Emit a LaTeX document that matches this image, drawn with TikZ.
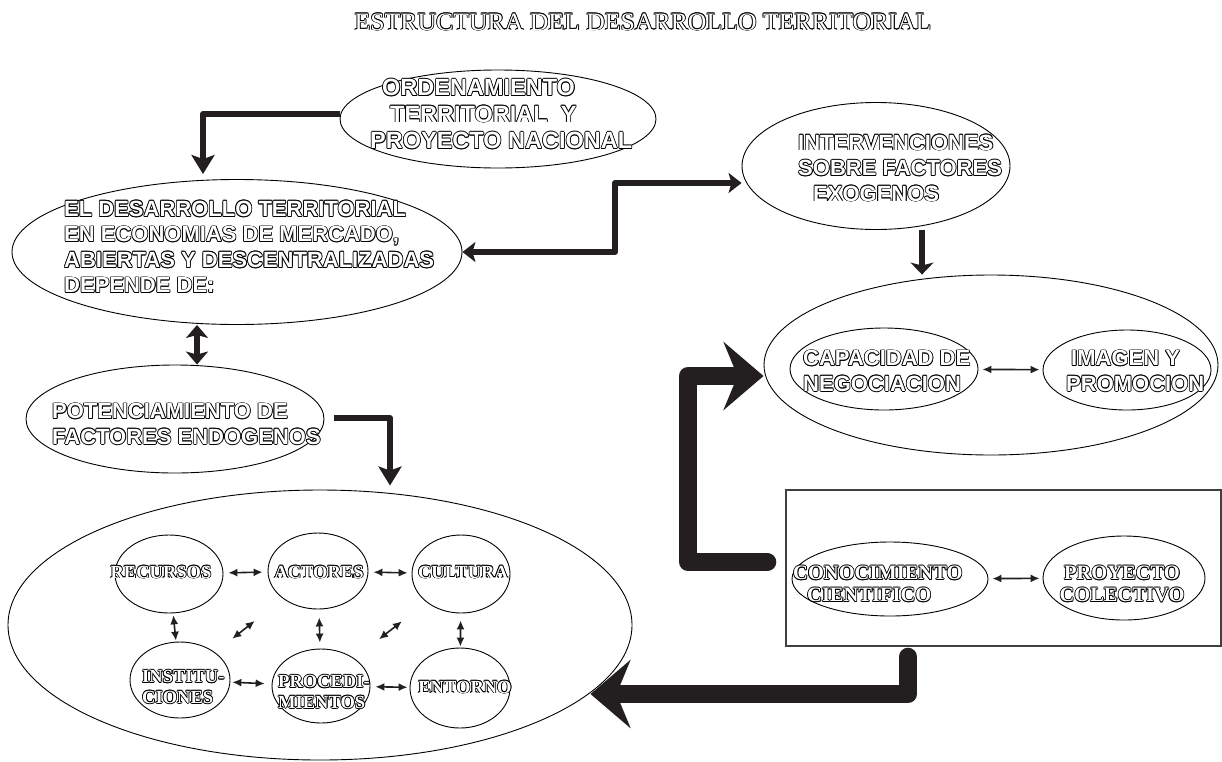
\documentclass[tikz,border=0pt]{standalone}
\usepackage{fontspec}
\setmainfont{Liberation Serif}
\newfontfamily\sansf{Liberation Sans}
\newfontfamily\titlef{Liberation Serif}[FakeStretch=1.03]
\usetikzlibrary{shapes.geometric,arrows.meta}
\definecolor{ink}{HTML}{231F20}
\newcommand{\olc}[3]{\rlap{\kern#1\raisebox{#2}{#3}}}
\newcommand{\ol}[1]{{\leavevmode\color{black}%
\olc{0.8pt}{0pt}{#1}\olc{-0.8pt}{0pt}{#1}\olc{0pt}{0.8pt}{#1}\olc{0pt}{-0.8pt}{#1}%
\olc{0.57pt}{0.57pt}{#1}\olc{-0.57pt}{0.57pt}{#1}\olc{0.57pt}{-0.57pt}{#1}\olc{-0.57pt}{-0.57pt}{#1}%
\color{white}#1}}
\begin{document}
\begin{tikzpicture}[x=1pt,y=-1pt,
  ell/.style={draw=black, line width=0.9pt, ellipse, inner sep=0pt},
  E/.style 2 args={ell, minimum width=#1pt, minimum height=#2pt},
  ttl/.style={inner sep=0pt, font=\titlef\fontsize{25}{28}\selectfont},
  stxt/.style={inner sep=0pt, font=\sansf\bfseries\fontsize{22}{25.5}\selectfont},
  stxtb/.style={inner sep=0pt, font=\sansf\bfseries\fontsize{23.5}{26.5}\selectfont},
  rtxt/.style={inner sep=0pt, font=\bfseries\fontsize{18.5}{20.5}\selectfont},
  rtxtb/.style={inner sep=0pt, font=\bfseries\fontsize{20.5}{22}\selectfont},
  marr/.style={draw=ink, line width=6pt, line join=round},
  barr/.style={draw=ink, line width=18pt, line cap=round, line join=round,
     -{Stealth[length=40pt,width=68pt,inset=14pt]}},
  tarr/.style={draw=ink, line width=1.6pt,
     {Latex[length=9pt,width=8pt]}-{Latex[length=9pt,width=8pt]}}
]
\useasboundingbox (0,0) rectangle (1222,761);

% title
\node[ttl] (title) at (643,22) {\ol{ESTRUCTURA DEL DESARROLLO TERRITORIAL}};

% ellipses
\node[E={316}{98}] (ord) at (498,119) {};
\node[E={450}{145}] (des) at (237,252) {};
\node[E={268}{127}] (int) at (876,166) {};
\node[E={298}{108}] (pot) at (175,419) {};
\node[E={624}{270}] (big) at (320,625) {};
\node[E={454}{180}] (rout) at (991,365) {};
\node[E={188}{82}] (cap) at (884,369) {};
\node[E={168}{80}] (img) at (1127,370) {};
\node[draw=black!75, line width=1.4pt, minimum width=435pt, minimum height=156pt, inner sep=0pt] (rect) at (1003.5,568) {};
\node[E={196}{74}] (con) at (890,579) {};
\node[E={162}{84}] (pro) at (1124,578) {};
\node[E={108}{78}] (rec) at (169,574) {};
\node[E={100}{76}] (act) at (318,571) {};
\node[E={98}{78}] (cul) at (461,574) {};
\node[E={100}{76}] (ins) at (180,680) {};
\node[E={98}{74}] (prc) at (321,686) {};
\node[E={100}{80}] (ent) at (460,688) {};

% texts
\node[stxtb, anchor=west, align=left] (ordT) at (370,114) {\hspace*{12pt}\ol{ORDENAMIENTO}\\\hspace*{20pt}\ol{TERRITORIAL\ \ Y}\\\ol{PROYECTO NACIONAL}};
\node[stxt, anchor=west, align=left] (desT) at (64,247) {\ol{EL DESARROLLO TERRITORIAL}\\\ol{EN ECONOMIAS DE MERCADO,}\\\ol{ABIERTAS Y DESCENTRALIZADAS}\\\ol{DEPENDE DE:}};
\node[stxt, anchor=west, align=left] (intT) at (798,168) {\ol{INTERVENCIONES}\\\ol{SOBRE FACTORES}\\\hspace*{15pt}\ol{EXOGENOS}};
\node[stxt, anchor=west, align=left] (potT) at (52,424) {\ol{POTENCIAMIENTO DE}\\\ol{FACTORES ENDOGENOS}};
\node[stxt, anchor=west, align=left] (capT) at (803,371) {\ol{CAPACIDAD DE}\\\ol{NEGOCIACION}};
\node[stxt, anchor=west, align=left] (imgT) at (1066,371) {\hspace*{5pt}\ol{IMAGEN Y}\\\ol{PROMOCION}};
\node[rtxt] (recT) at (161,572) {\ol{RECURSOS}};
\node[rtxt] (actT) at (319,572) {\ol{ACTORES}};
\node[rtxt] (culT) at (463,572) {\ol{CULTURA}};
\node[rtxt, anchor=west, align=left] (insT) at (142,687) {\ol{INSTITU-}\\\ol{CIONES}};
\node[rtxt, anchor=west, align=left] (prcT) at (278,692) {\ol{PROCEDI-}\\\ol{MIENTOS}};
\node[rtxt] (entT) at (465,687) {\ol{ENTORNO}};
\node[rtxtb, anchor=west, align=left] (conT) at (793,584) {\ol{CONOCIMIENTO}\\\hspace*{14pt}\ol{CIENTIFICO}};
\node[rtxtb, align=center] (proT) at (1122,584) {\ol{PROYECTO}\\\ol{COLECTIVO}};

% medium connectors
\coordinate (k1) at (203,0);
\coordinate (k2) at (615,183);
\coordinate (k3) at (922,0);
\coordinate (k4) at (197,0);
\coordinate (k5) at (390,0);
\draw[marr, -{Stealth[length=19pt,width=23pt,inset=4pt]}, shorten >=5pt]
  ([yshift=5pt]ord.west) -| (k1 |- des.north);
\draw[marr, {Stealth[length=13pt,width=20pt,inset=3pt]}-{Stealth[length=13pt,width=20pt,inset=3pt]}]
  (des.east) -| (k2) -- (k2 -| int.west);
\draw[marr, -{Stealth[length=12pt,width=23pt,inset=3pt]}]
  (k3 |- int.south) -- (k3 |- rout.north);
\draw[marr, {Stealth[length=13pt,width=22pt,inset=3pt]}-{Stealth[length=13pt,width=22pt,inset=3pt]}]
  (k4 |- des.south) -- (k4 |- pot.north);
\draw[marr, -{Stealth[length=19pt,width=23pt,inset=4pt]}, shorten <=10pt, shorten >=4pt]
  ([yshift=1pt]pot.east) -| (k5 |- big.north);

% big connectors
\coordinate (k6) at (688,376);
\coordinate (k7) at (908,694);
\draw[barr, shorten <=18pt] ([yshift=6pt]rect.west) -| (k6) -- (k6 -| rout.west);
\draw[barr, shorten <=10pt, shorten >=-42pt] (k7 |- rect.south) -- (k7) -- (k7 -| big.east);

% thin connectors
\draw[tarr, shorten <=5pt, shorten >=5pt] (rec) -- (act);
\draw[tarr, shorten <=5pt, shorten >=4pt] (act) -- (cul);
\draw[tarr, shorten <=2pt, shorten >=1pt] (rec) -- (ins);
\draw[tarr, shorten <=8pt, shorten >=6pt] (act) -- (prc);
\draw[tarr, shorten <=7pt, shorten >=1pt] (cul) -- (ent);
\draw[tarr, shorten <=2pt, shorten >=7pt] (ins) -- (prc);
\draw[tarr, shorten <=5pt, shorten >=2pt] (prc) -- (ent);
\draw[tarr, shorten <=22pt, shorten >=36pt] (ins) -- (act);
\draw[tarr, shorten <=31pt, shorten >=31pt] (prc) -- (cul);
\draw[tarr, shorten <=4pt, shorten >=3pt] (cap) -- (img);
\draw[tarr, shorten <=4pt, shorten >=3pt] (con) -- (pro);
\end{tikzpicture}
\end{document}
